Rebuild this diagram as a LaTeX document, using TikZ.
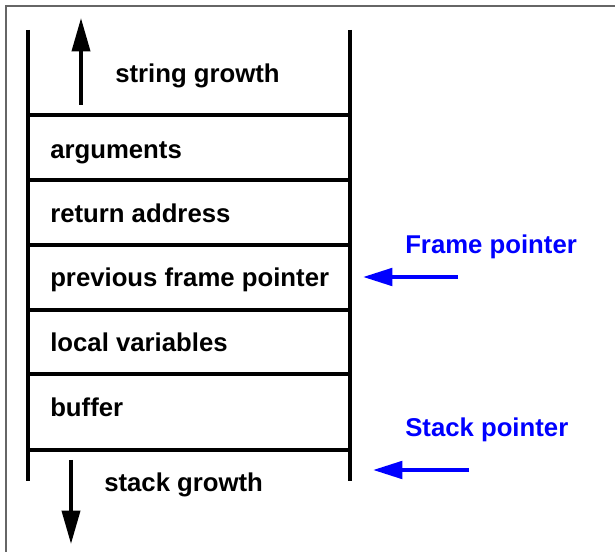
\documentclass[tikz,border=0pt]{standalone}
\usepackage{fontspec}
\setmainfont{Liberation Sans}
\usetikzlibrary{arrows.meta}
\begin{document}
\begin{tikzpicture}[x=0.75pt,y=-0.75pt,
  lbl/.style={font=\fontsize{19.3}{22}\selectfont\bfseries, inner sep=0pt, anchor=base west},
  ptr/.style={lbl, text=blue},
  wall/.style={line width=2.6pt},
  growarrow/.style={line width=2.8pt, -{Triangle[length=25pt,width=13.5pt]}},
  ptrarrow/.style={blue, line width=3pt, -{Triangle[length=22pt,width=13pt]}},
  frameline/.style={black!60, line width=1.5pt}]
\useasboundingbox (0,0) rectangle (615,552);
% outer frame (top and left edges visible)
\draw[frameline] (6,552) -- (6,6) -- (615,6);
% stack walls
\draw[wall] (28,30) -- (28,481);
\draw[wall] (350,30) -- (350,481);
% stack separators
\foreach \yy in {115,180,245,310,374,450}
  \draw[wall] (28,\yy) -- (350,\yy);
% labels
\node[lbl] (sg) at (115,83) {string growth};
\node[lbl] (args) at (50,159) {arguments};
\node[lbl] (ret) at (50,222.5) {return address};
\node[lbl] (pfp) at (50,287) {previous frame pointer};
\node[lbl] (lv) at (50,351.5) {local variables};
\node[lbl] (buf) at (50,416.5) {buffer};
\node[lbl] (stg) at (104,491.5) {stack growth};
\node[ptr] (fp) at (405,254) {Frame pointer};
\node[ptr] (sp) at (405,437) {Stack pointer};
% growth arrows
\coordinate (upS) at (81,105);
\coordinate (upE) at (81,18);
\coordinate (dnS) at (71,460);
\coordinate (dnE) at (71,544);
\draw[growarrow] (upS) -- (upE);
\draw[growarrow] (dnS) -- (dnE);
% pointer arrows
\coordinate (fpS) at (458,277);
\coordinate (fpE) at (363,277);
\coordinate (spS) at (469,470);
\coordinate (spE) at (373,470);
\draw[ptrarrow] (fpS) -- (fpE);
\draw[ptrarrow] (spS) -- (spE);
\end{tikzpicture}
\end{document}
